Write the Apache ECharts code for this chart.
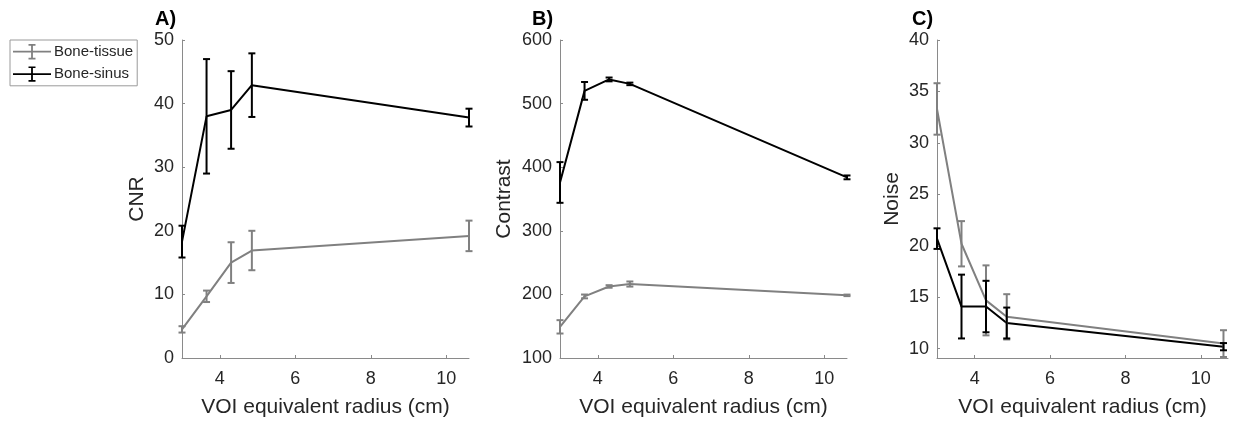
<!DOCTYPE html>
<html>
<head>
<meta charset="utf-8">
<script src="https://cdn.jsdelivr.net/npm/echarts@6/dist/echarts.min.js"></script>
<style>
  html, body { margin: 0; padding: 0; background: #fff; }
  #chart { width: 1242px; height: 425px; }
</style>
</head>
<body>
<div id="chart"></div>
<script>
// VOI equivalent radius (cm)
const radius = [3.0, 3.65, 4.3, 4.85, 10.6];
const radiusTicks = [4, 6, 8, 10];
const seriesNames = ['Bone-tissue', 'Bone-sinus'];
const panelLabels = ['A)', 'B)', 'C)'];
const yAxisNames = ['CNR', 'Contrast', 'Noise'];
const xAxisName = 'VOI equivalent radius (cm)';

// A) CNR
const cnrTissue = [4.5, 9.7, 15.0, 16.9, 19.2];
const cnrTissueErr = [0.5, 0.9, 3.2, 3.1, 2.4];
const cnrSinus = [18.3, 38.0, 39.0, 42.9, 37.8];
const cnrSinusErr = [2.5, 9.0, 6.1, 5.0, 1.4];

// B) Contrast
const contrastTissue = [149, 196.8, 212.5, 216.3, 198.5];
const contrastTissueErr = [10.5, 3, 2, 4, 1.2];
const contrastSinus = [376, 520, 538, 531, 384];
const contrastSinusErr = [32, 14, 3, 2, 3];

// C) Noise
const noiseTissue = [33.3, 20.2, 14.7, 13.1, 10.5];
const noiseTissueErr = [2.5, 2.2, 3.4, 2.2, 1.3];
const noiseSinus = [20.7, 14.1, 14.1, 12.5, 10.2];
const noiseSinusErr = [1.0, 3.1, 2.5, 1.5, 0.35];
const noiseTicks = [10, 15, 20, 25, 30, 35, 40];

const colors = ['#808080', '#000000'];
const axisColor = '#8a8a8a';
const textColor = '#262626';
const font = 'Liberation Sans, Arial, Helvetica, sans-serif';

const panels = [
  { left: 182, right: 773, xMax: 10.6, yMin: 0, yMax: 50, yInterval: 10, nameGap: 34,
    tissue: [cnrTissue, cnrTissueErr], sinus: [cnrSinus, cnrSinusErr], titleLeft: 150 },
  { left: 560, right: 395, xMax: 10.6, yMin: 100, yMax: 600, yInterval: 100, nameGap: 45,
    tissue: [contrastTissue, contrastTissueErr], sinus: [contrastSinus, contrastSinusErr], titleLeft: 527 },
  { left: 937, right: 14, xMax: 10.72, yMin: 9.1, yMax: 40, yTicks: noiseTicks, nameGap: 34,
    tissue: [noiseTissue, noiseTissueErr], sinus: [noiseSinus, noiseSinusErr], titleLeft: 907 }
];

// vertical error bar with short caps at both ends
function errorBarSeries(name, idx, color, vals, errs) {
  return {
    type: 'custom',
    name: name,
    xAxisIndex: idx,
    yAxisIndex: idx,
    silent: true,
    clip: false,
    z: 3,
    itemStyle: { color: color },
    encode: { x: 0, y: [1, 2] },
    data: radius.map((x, i) => [x, vals[i] - errs[i], vals[i] + errs[i]]),
    renderItem: function (params, api) {
      const lo = api.coord([api.value(0), api.value(1)]);
      const hi = api.coord([api.value(0), api.value(2)]);
      const w = 3.5;
      const style = { stroke: color, lineWidth: 2 };
      return {
        type: 'group',
        children: [
          { type: 'line', shape: { x1: lo[0], y1: lo[1], x2: hi[0], y2: hi[1] }, style: style },
          { type: 'line', shape: { x1: lo[0] - w, y1: lo[1], x2: lo[0] + w, y2: lo[1] }, style: style },
          { type: 'line', shape: { x1: hi[0] - w, y1: hi[1], x2: hi[0] + w, y2: hi[1] }, style: style }
        ]
      };
    }
  };
}

function lineSeries(name, idx, color, vals) {
  return {
    type: 'line',
    name: name,
    xAxisIndex: idx,
    yAxisIndex: idx,
    showSymbol: false,
    symbol: 'none',
    silent: true,
    z: 2,
    itemStyle: { color: color },
    lineStyle: { color: color, width: 2 },
    data: radius.map((x, i) => [x, vals[i]])
  };
}

const grids = [], xAxes = [], yAxes = [], series = [], titles = [];
panels.forEach((p, i) => {
  grids.push({ left: p.left, right: p.right, top: 40, bottom: 67 });
  titles.push({
    text: panelLabels[i], left: p.titleLeft, top: 4,
    textStyle: { fontSize: 20, fontWeight: 'bold', color: '#000', fontFamily: font }
  });
  xAxes.push({
    type: 'value', gridIndex: i, min: 3, max: p.xMax,
    name: xAxisName, nameLocation: 'middle', nameGap: 39,
    nameTextStyle: { fontSize: 21, color: textColor, fontFamily: font },
    axisLine: { show: true, onZero: false, lineStyle: { color: axisColor, width: 1 } },
    axisTick: { show: true, inside: true, length: 3, customValues: radiusTicks, lineStyle: { color: axisColor } },
    axisLabel: { customValues: radiusTicks, fontSize: 18, margin: 12, color: textColor, fontFamily: font },
    splitLine: { show: false }
  });
  const y = {
    type: 'value', gridIndex: i, min: p.yMin, max: p.yMax,
    name: yAxisNames[i], nameLocation: 'middle', nameGap: p.nameGap,
    nameTextStyle: { fontSize: 21, color: textColor, fontFamily: font },
    axisLine: { show: true, onZero: false, lineStyle: { color: axisColor, width: 1 } },
    axisTick: { show: true, inside: true, length: 3, lineStyle: { color: axisColor } },
    axisLabel: { fontSize: 18, margin: 8, color: textColor, fontFamily: font },
    splitLine: { show: false }
  };
  if (p.yTicks) {
    y.axisTick.customValues = p.yTicks;
    y.axisLabel.customValues = p.yTicks;
  } else {
    y.interval = p.yInterval;
  }
  yAxes.push(y);

  series.push(lineSeries(seriesNames[0], i, colors[0], p.tissue[0]));
  series.push(errorBarSeries(seriesNames[0], i, colors[0], p.tissue[0], p.tissue[1]));
  series.push(lineSeries(seriesNames[1], i, colors[1], p.sinus[0]));
  series.push(errorBarSeries(seriesNames[1], i, colors[1], p.sinus[0], p.sinus[1]));
});

const errorIcon = 'path://M0,7.1H38V8.9H0Z M18.1,1H19.9V15H18.1Z M15.5,0.3H22.5V2H15.5Z M15.5,14H22.5V15.7H15.5Z';

const chart = echarts.init(document.getElementById('chart'), null, { renderer: 'canvas' });
chart.setOption({
  animation: false,
  backgroundColor: '#fff',
  title: titles,
  legend: {
    left: 10, top: 40,
    orient: 'vertical',
    itemWidth: 38, itemHeight: 16, itemGap: 7,
    padding: [4, 4, 4, 3],
    borderColor: '#9a9a9a', borderWidth: 1,
    backgroundColor: '#fff',
    selectedMode: false,
    textStyle: { fontSize: 15, color: textColor, fontFamily: font, padding: [0, 0, 0, -2] },
    data: seriesNames.map((n, i) => ({ name: n, icon: errorIcon, itemStyle: { color: colors[i] } }))
  },
  grid: grids,
  xAxis: xAxes,
  yAxis: yAxes,
  series: series
});
</script>
</body>
</html>
